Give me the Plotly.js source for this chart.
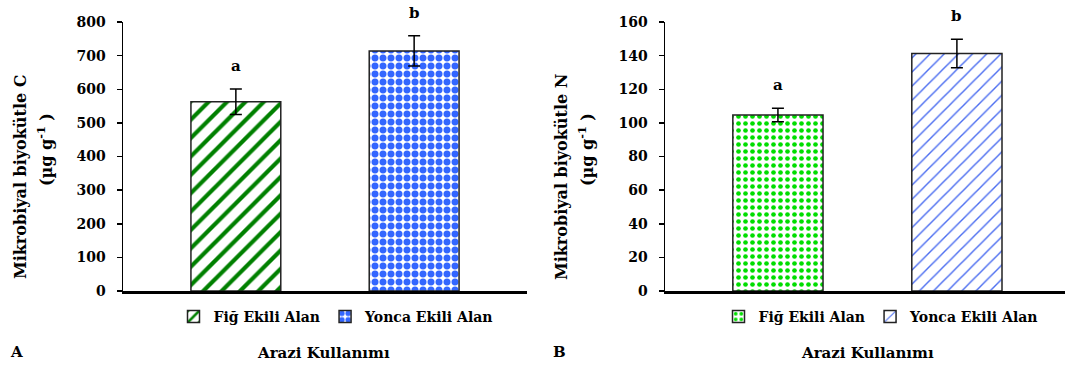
<!DOCTYPE html>
<html>
<head>
<meta charset="utf-8">
<script src="https://cdn.plot.ly/plotly-3.0.1.min.js"></script>
<style>html,body{margin:0;padding:0;background:#fff;}#chart{width:1065px;height:367px;}</style>
</head>
<body>
<div id="chart"></div>
<script>
// ---- data ----
const categories = ["Fiğ Ekili Alan", "Yonca Ekili Alan"];
const carbonValues = [563, 714];
const carbonErrors = [38, 45];
const carbonLetters = ["a", "b"];
const nitrogenValues = [104.7, 141.3];
const nitrogenErrors = [4, 8.5];
const nitrogenLetters = ["a", "b"];
const carbonTitle = "Mikrobiyal biyokütle C";
const nitrogenTitle = "Mikrobiyal biyokütle N";
const unitTitle = "(µg g<sup>-1</sup> )";
const xTitle = "Arazi Kullanımı";
const panelLabels = ["A", "B"];

// ---- styles ----
const FONT = "DejaVu Serif";
const carbonPatterns = [
  {shape: "/", fgcolor: "#008000", bgcolor: "#ffffff", size: 13, solidity: 0.32, fillmode: "replace"},
  {shape: ".", fgcolor: "#3366ff", bgcolor: "#ffffff", size: 8, solidity: 0.6, fillmode: "replace"}
];
const nitrogenPatterns = [
  {shape: ".", fgcolor: "#00dd00", bgcolor: "#ffffff", size: 7, solidity: 0.35, fillmode: "replace"},
  {shape: "/", fgcolor: "#4a6cf0", bgcolor: "#ffffff", size: 10, solidity: 0.14, fillmode: "replace"}
];

function barTrace(i, values, errors, pattern, xa, ya, legend) {
  return {
    type: "bar",
    x: [categories[i]],
    y: [values[i]],
    name: categories[i],
    xaxis: xa, yaxis: ya,
    legend: legend,
    width: 0.504,
    marker: {color: "#ffffff", pattern: pattern, line: {color: "#222222", width: 1.5}},
    error_y: {type: "data", array: [errors[i]], visible: true, color: "#000000", thickness: 1.5, width: 6},
    hoverinfo: "skip"
  };
}

const data = [];
for (let i = 0; i < categories.length; i++) data.push(barTrace(i, carbonValues, carbonErrors, carbonPatterns[i], "x", "y", "legend"));
for (let i = 0; i < categories.length; i++) data.push(barTrace(i, nitrogenValues, nitrogenErrors, nitrogenPatterns[i], "x2", "y2", "legend2"));

const annotations = [];
function letterAnn(i, values, errors, letters, xa, ya) {
  annotations.push({xref: xa, yref: ya, x: categories[i], y: values[i] + errors[i], text: letters[i],
    showarrow: false, yanchor: "bottom", yshift: 12, font: {family: FONT, size: 15, weight: "bold", color: "#000"}});
}
for (let i = 0; i < categories.length; i++) {
  letterAnn(i, carbonValues, carbonErrors, carbonLetters, "x", "y");
  letterAnn(i, nitrogenValues, nitrogenErrors, nitrogenLetters, "x2", "y2");
}
const tf = {family: FONT, size: 15, weight: "bold", color: "#000"};
const yt = {family: FONT, size: 16, weight: "bold", color: "#000"};
// y titles
annotations.push({xref: "paper", yref: "paper", x: 20/1065, y: (367-177)/367, text: carbonTitle, textangle: -90, showarrow: false, xanchor: "center", yanchor: "middle", font: yt});
annotations.push({xref: "paper", yref: "paper", x: 45/1065, y: (367-150)/367, text: unitTitle, textangle: -90, showarrow: false, xanchor: "center", yanchor: "middle", font: yt});
annotations.push({xref: "paper", yref: "paper", x: 561/1065, y: (367-177)/367, text: nitrogenTitle, textangle: -90, showarrow: false, xanchor: "center", yanchor: "middle", font: yt});
annotations.push({xref: "paper", yref: "paper", x: 586/1065, y: (367-150)/367, text: unitTitle, textangle: -90, showarrow: false, xanchor: "center", yanchor: "middle", font: yt});
// x titles
annotations.push({xref: "paper", yref: "paper", x: 323/1065, y: (367-353)/367, text: xTitle, showarrow: false, xanchor: "center", yanchor: "middle", font: tf});
annotations.push({xref: "paper", yref: "paper", x: 867/1065, y: (367-353)/367, text: xTitle, showarrow: false, xanchor: "center", yanchor: "middle", font: tf});
// panel labels
annotations.push({xref: "paper", yref: "paper", x: 16/1065, y: (367-352)/367, text: panelLabels[0], showarrow: false, xanchor: "center", yanchor: "middle", font: tf});
annotations.push({xref: "paper", yref: "paper", x: 559/1065, y: (367-352)/367, text: panelLabels[1], showarrow: false, xanchor: "center", yanchor: "middle", font: tf});

const yBase = {
  domain: [76/367, 345/367], showgrid: false, zeroline: false,
  showline: true, linecolor: "#000", linewidth: 1.5,
  ticks: "outside", ticklen: 5, tickcolor: "#000", tickwidth: 1.5,
  ticklabelstandoff: 8,
  tickfont: {family: FONT, size: 14, weight: "bold", color: "#000"}
};
const xBase = {
  type: "category", showgrid: false, zeroline: false, showticklabels: false,
  showline: true, linecolor: "#000", linewidth: 2.5, ticks: ""
};
const legBase = {orientation: "h", xanchor: "center", yanchor: "middle", y: (367-317)/367,
  font: {family: FONT, size: 14, weight: "bold", color: "#000"}, itemwidth: 30, bgcolor: "rgba(0,0,0,0)"};

const layout = {
  width: 1065, height: 367,
  margin: {l: 0, r: 0, t: 0, b: 0},
  paper_bgcolor: "#fff", plot_bgcolor: "#fff",
  barmode: "overlay",
  showlegend: true,
  xaxis: Object.assign({}, xBase, {domain: [123/1065, 527/1065], range: [-0.633, 1.633], anchor: "y"}),
  yaxis: Object.assign({}, yBase, {range: [0, 800], dtick: 100, anchor: "x"}),
  xaxis2: Object.assign({}, xBase, {domain: [665/1065, 1], range: [-0.631, 1.604], anchor: "y2"}),
  yaxis2: Object.assign({}, yBase, {range: [0, 160], dtick: 20, anchor: "x2"}),
  legend: Object.assign({}, legBase, {x: 336/1065}),
  legend2: Object.assign({}, legBase, {x: 881/1065}),
  annotations: annotations
};

Plotly.newPlot("chart", data, layout, {staticPlot: true, displayModeBar: false});
</script>
</body>
</html>
